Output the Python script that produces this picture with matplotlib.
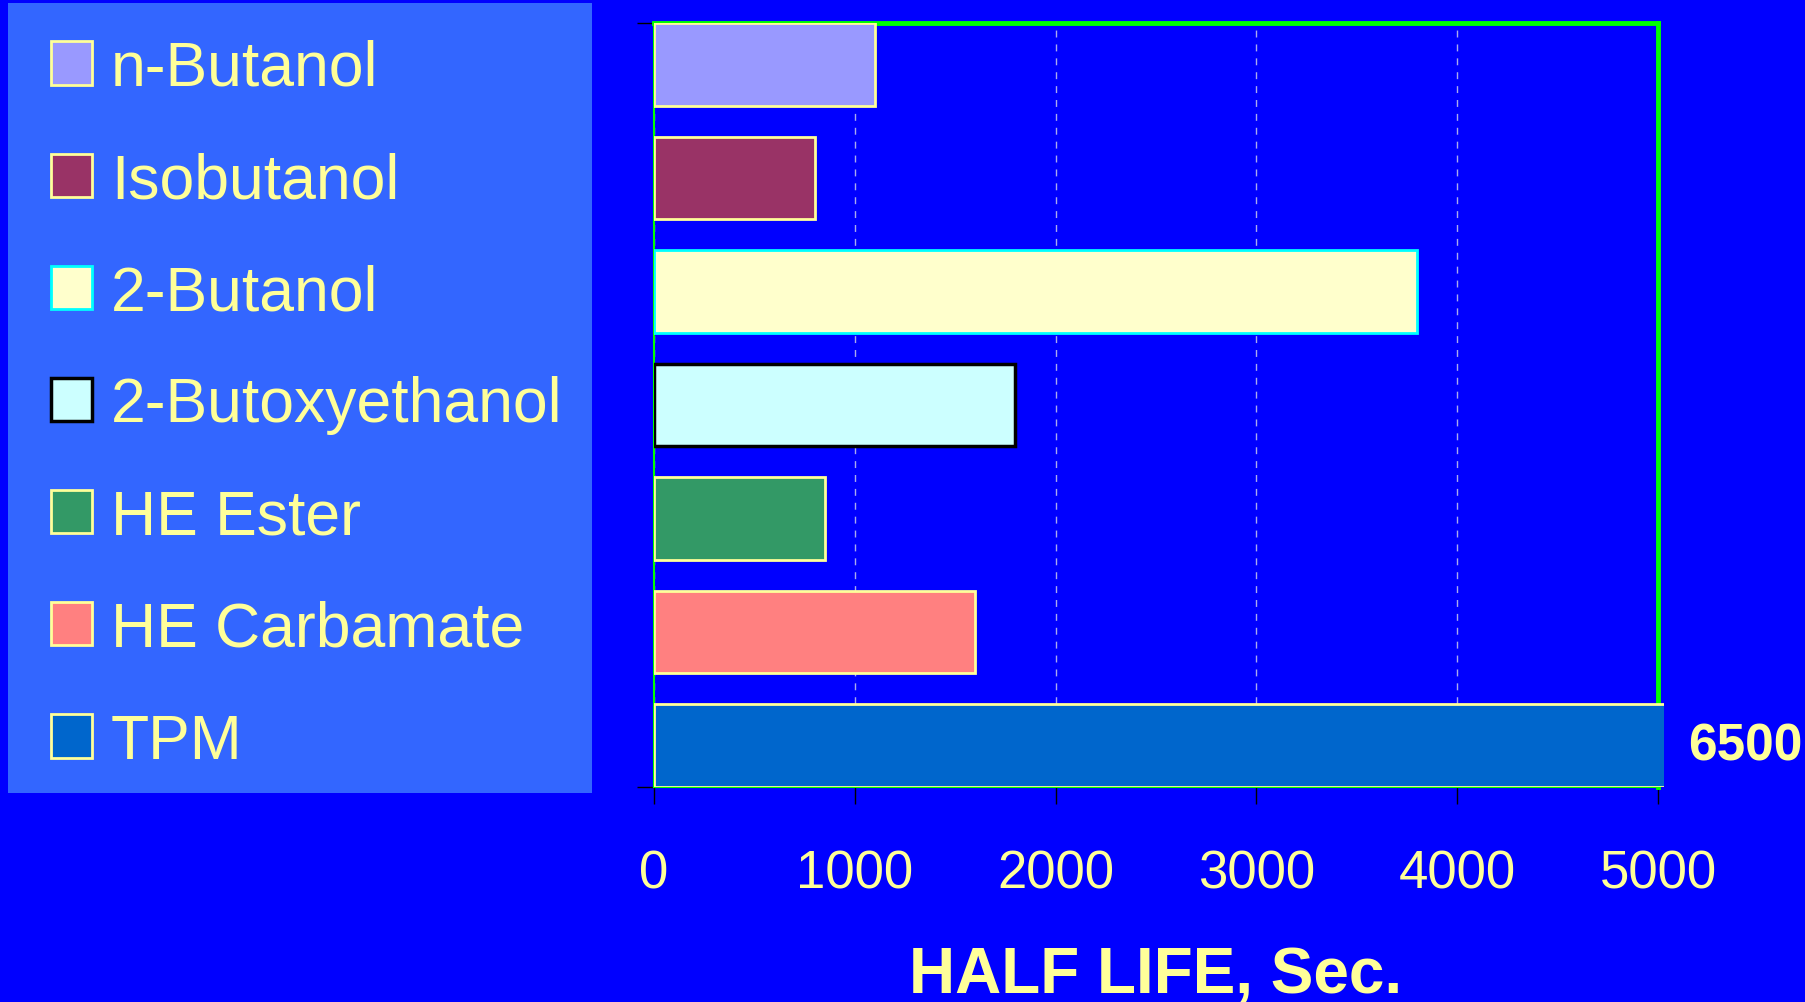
import matplotlib
matplotlib.use("Agg")
import matplotlib.pyplot as plt
from matplotlib.patches import Rectangle
import numpy as np

plt.rcParams['font.family'] = ['Liberation Sans', 'DejaVu Sans']

# datos
categorias = ["n-Butanol", "Isobutanol", "2-Butanol", "2-Butoxyethanol",
              "HE Ester", "HE Carbamate", "TPM"]
vida_media = [1100, 800, 3800, 1800, 850, 1600, 6500]
colores = ["#9999FF", "#993366", "#FFFFCC", "#CCFFFF", "#339966", "#FF8080", "#0066CC"]
bordes = ["#FFFF99", "#FFFF99", "#00FFFF", "#000000", "#FFFF99", "#FFFF99", "#FFFF99"]
ticks_x = [0, 1000, 2000, 3000, 4000, 5000]

amarillo = "#FFFF99"
W, H = 1805, 1003

fig = plt.figure(figsize=(W / 100, H / 100), dpi=100, facecolor="#0000FF")

# panel de la leyenda
fig.patches.append(Rectangle((8 / W, 1 - 794 / H), 584 / W, 790 / H,
                             transform=fig.transFigure, facecolor="#3366FF",
                             edgecolor="none", zorder=0))

ax = fig.add_axes([654 / W, 1 - 788 / H, 1004 / W, 764 / H])
ax.set_facecolor("#0000FF")

y = np.arange(len(categorias))
alto = 0.73
barras = ax.barh(y, vida_media, height=alto, color=colores, edgecolor=bordes,
                 linewidth=2, zorder=3)
lw_borde = [2, 2, 2, 2.5, 2, 2, 2]
clip = Rectangle((0, 0), 1 + 6 / 1004, 1, transform=ax.transAxes)
for b, lw in zip(barras, lw_borde):
    b.set_linewidth(lw)
    b.set_clip_path(clip)

ax.set_xlim(0, 5000)
ax.set_ylim(len(categorias) - 1 + alto / 2, -alto / 2)
ax.set_xticks(ticks_x)
ax.set_xticklabels([str(t) for t in ticks_x])
ax.set_yticks([-alto / 2, len(categorias) - 1 + alto / 2])
ax.set_yticklabels([])

ax.tick_params(axis="x", direction="out", length=12, width=1, color="black",
               labelsize=38, labelcolor=amarillo, pad=32)
ax.tick_params(axis="y", direction="out", length=12, width=1, color="black")

ax.grid(axis="x", color="#AAAAEE", linestyle=(0, (5, 5)), linewidth=1)
ax.set_axisbelow(True)

for lado in ["top", "right"]:
    ax.spines[lado].set_color("#00FF00")
    ax.spines[lado].set_linewidth(3.5)
for lado in ["left", "bottom"]:
    ax.spines[lado].set_color("#00FF00")
    ax.spines[lado].set_linewidth(1.5)

# valor de la barra que se sale de la escala
ax.annotate(str(vida_media[-1]), xy=(5000, y[-1]), xytext=(22, 0),
            textcoords="offset points", ha="left", va="center",
            fontsize=37, fontweight="bold", color=amarillo,
            annotation_clip=False)

ax.set_xlabel("HALF LIFE, Sec.", fontsize=46, fontweight="bold", color=amarillo,
              va="baseline")
ax.xaxis.set_label_coords(0.5, (788 - 993) / 764)

fig.legend(handles=list(barras), labels=categorias, loc="upper left",
           bbox_to_anchor=(51 / W, 1 - 40 / H), frameon=False,
           fontsize=45, labelcolor=amarillo, handlelength=0.66,
           handleheight=0.69, handletextpad=0.3, labelspacing=0.85,
           borderpad=0, borderaxespad=0)

fig.savefig("out.png", dpi=100, facecolor=fig.get_facecolor())
